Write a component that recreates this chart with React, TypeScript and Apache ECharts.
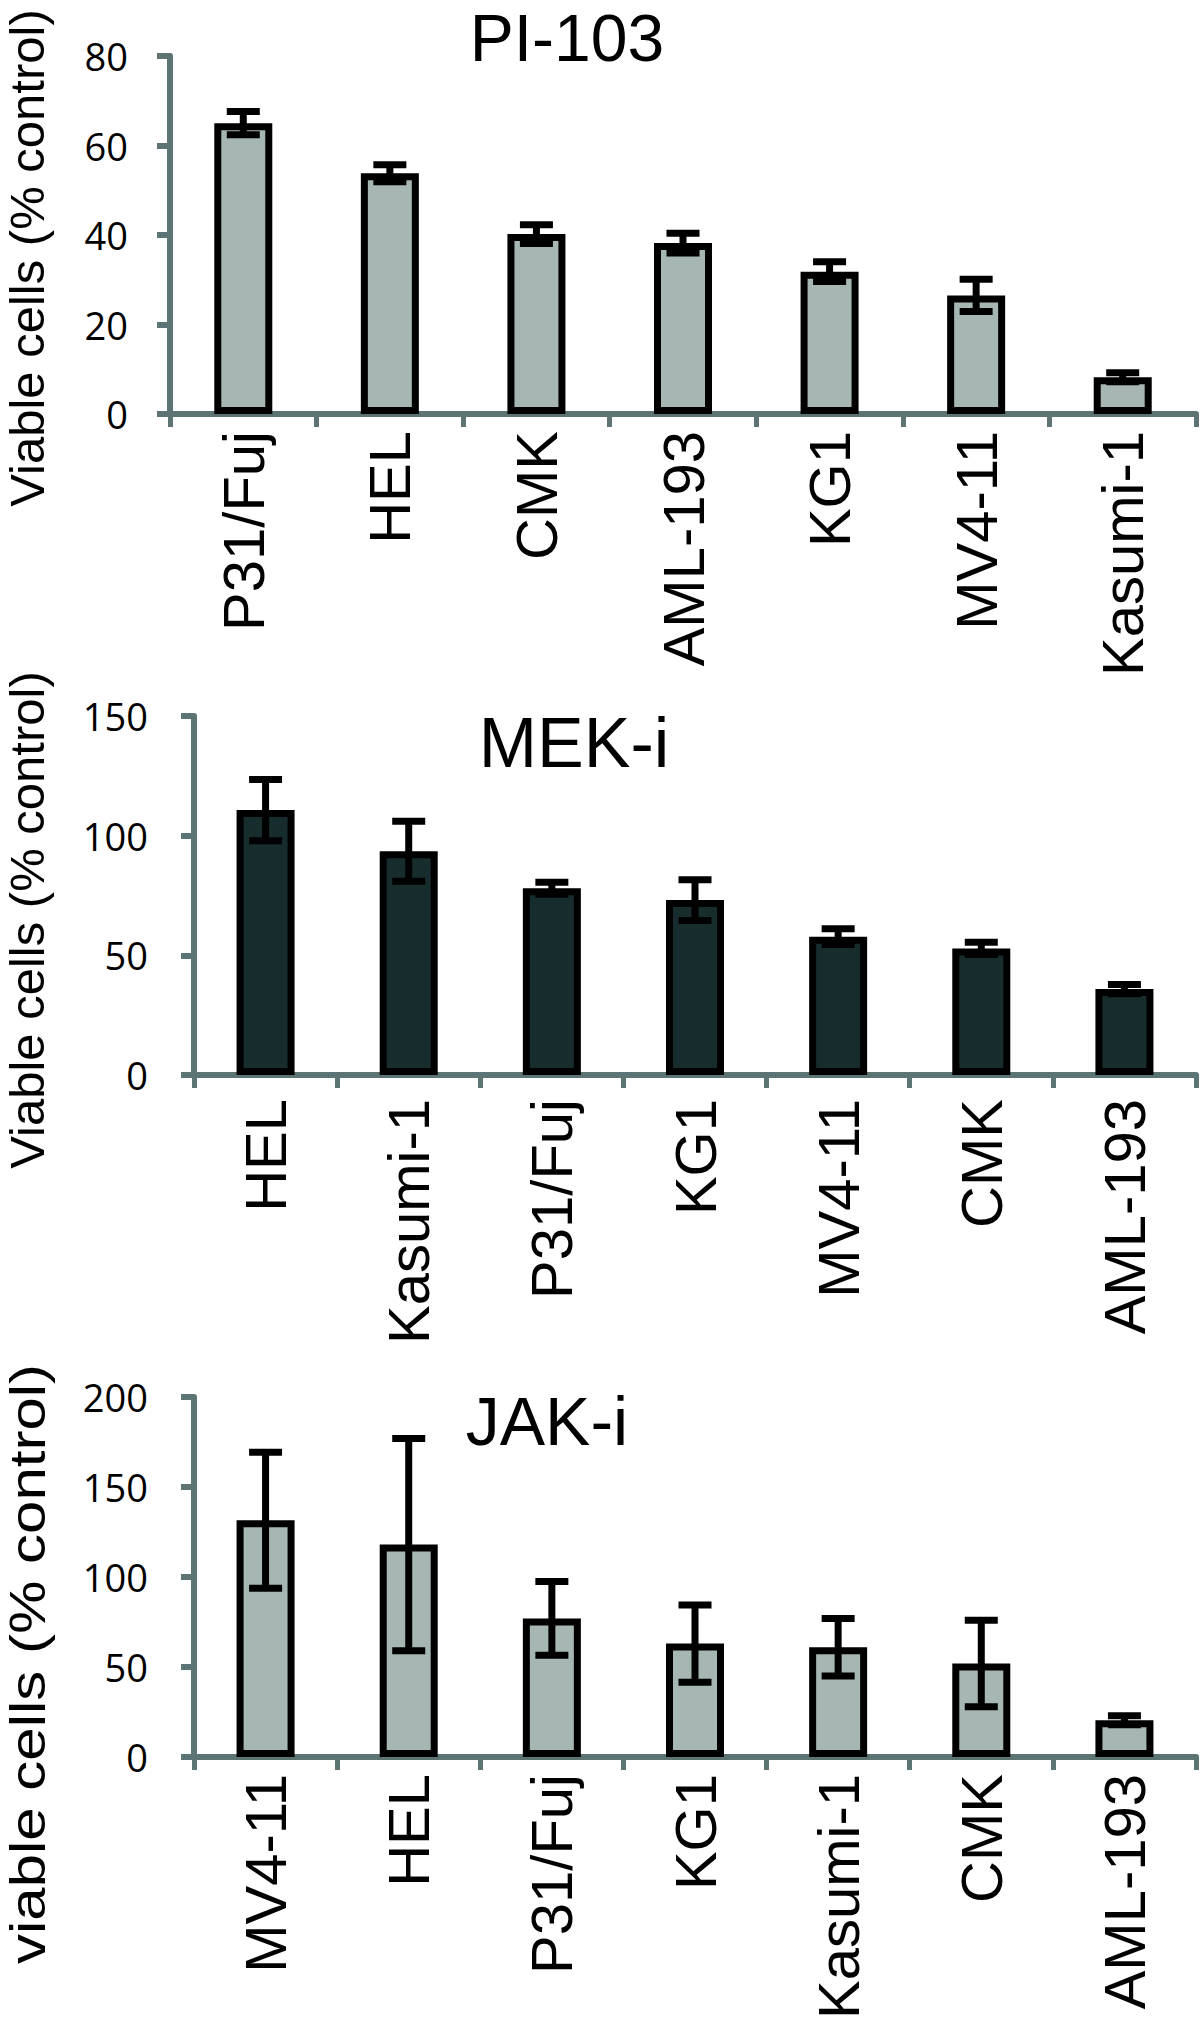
import React, { useEffect, useRef } from "react";
import * as echarts from "echarts";

// ---- data ----
const pi103Cats = ["P31/Fuj", "HEL", "CMK", "AML-193", "KG1", "MV4-11", "Kasumi-1"];
const pi103Vals = [65.0, 53.8, 40.2, 38.2, 31.8, 26.5, 8.2];
const pi103Err = [2.6, 1.9, 2.1, 2.2, 2.2, 3.6, 1.0];

const mekCats = ["HEL", "Kasumi-1", "P31/Fuj", "KG1", "MV4-11", "CMK", "AML-193"];
const mekVals = [110.7, 93.5, 78.0, 73.1, 57.8, 52.9, 35.9];
const mekErr = [12.8, 12.5, 2.5, 8.5, 3.3, 2.6, 1.9];

const jakCats = ["MV4-11", "HEL", "P31/Fuj", "KG1", "Kasumi-1", "CMK", "AML-193"];
const jakVals = [131.5, 118, 77, 63, 61, 52, 20.5];
const jakErr = [37.8, 59, 20.5, 21.5, 16, 24, 2.5];

const panelTitles = ["PI-103", "MEK-i", "JAK-i"];
const yTitles = ["Viable cells (% control)", "Viable cells (% control)", "viable cells (% control)"];
const yMax = [80, 150, 200];
const yStep = [20, 50, 50];

const AXIS = "#5c7474";
const LIGHT = "#a6b6b2";
const DARK = "#172c2d";

export default function App() {
  const ref = useRef<HTMLDivElement>(null);
  useEffect(() => {
    if (!ref.current) return;
    const chart = echarts.init(ref.current, undefined, { renderer: "svg" });
    const cats = [pi103Cats, mekCats, jakCats];
    const vals = [pi103Vals, mekVals, jakVals];
    const errs = [pi103Err, mekErr, jakErr];
    const fills = [LIGHT, DARK, LIGHT];
    const grids = [
      { left: 170, top: 56, width: 1026, height: 358 },
      { left: 194, top: 716, width: 1002, height: 359 },
      { left: 194, top: 1397, width: 1002, height: 361 },
    ];
    const labelMargins = [17, 24, 17];
    const yLabelMargins = [42, 46, 46];

    const xAxis = cats.map((c, i) => ({
      type: "category",
      gridIndex: i,
      data: c,
      axisLine: { show: true, lineStyle: { color: AXIS, width: 6 } },
      axisTick: { show: true, length: 13, alignWithLabel: false, lineStyle: { color: AXIS, width: 5 } },
      axisLabel: {
        rotate: 90,
        interval: 0,
        margin: labelMargins[i],
        fontSize: 58,
        fontFamily: "Liberation Sans",
        color: "#000",
      },
    }));
    const yAxis = cats.map((_, i) => ({
      type: "value",
      gridIndex: i,
      min: 0,
      max: yMax[i],
      interval: yStep[i],
      splitLine: { show: false },
      axisLine: { show: true, lineStyle: { color: AXIS, width: 6 } },
      axisTick: { show: true, length: 13, lineStyle: { color: AXIS, width: 6 } },
      axisLabel: { margin: yLabelMargins[i], fontSize: 38, fontFamily: "Open Sans", color: "#000" },
    }));

    const series: any[] = [];
    cats.forEach((_, i) => {
      series.push({
        type: "bar",
        xAxisIndex: i,
        yAxisIndex: i,
        data: vals[i],
        barWidth: 58,
        itemStyle: { color: fills[i], borderColor: "#000", borderWidth: 7 },
        z: 2,
      });
      series.push({
        type: "custom",
        xAxisIndex: i,
        yAxisIndex: i,
        z: 5,
        encode: { x: 0, y: 1 },
        data: vals[i].map((v, k) => [k, v, errs[i][k]]),
        renderItem: (params: any, api: any) => {
          const k = api.value(0);
          const v = api.value(1);
          const e = api.value(2);
          const top = api.coord([k, v + e]);
          const bot = api.coord([k, v - e]);
          const hw = 16.5;
          const st = { stroke: "#000", lineWidth: 7 };
          return {
            type: "group",
            children: [
              { type: "line", shape: { x1: top[0], y1: top[1], x2: bot[0], y2: bot[1] }, style: st },
              { type: "line", shape: { x1: top[0] - hw, y1: top[1], x2: top[0] + hw, y2: top[1] }, style: st },
              { type: "line", shape: { x1: bot[0] - hw, y1: bot[1], x2: bot[0] + hw, y2: bot[1] }, style: st },
            ],
          };
        },
      });
    });

    const titlePos = [
      [567, 38],
      [574, 743],
      [547, 1421],
    ];
    const titleFont = [66, 70, 68];
    const yTitlePos = [
      [27, 258],
      [27, 920],
      [28, 1664],
    ];
    const yTitleFont = [49, 49, 50];
    const yTitleStretch = [1, 1, 1.2];
    const graphic: any[] = [];
    panelTitles.forEach((t, i) => {
      graphic.push({
        type: "text",
        x: titlePos[i][0],
        y: titlePos[i][1],
        style: {
          text: t,
          fontSize: titleFont[i],
          lineHeight: 60,
          fontFamily: "Liberation Sans",
          fill: "#000",
          textAlign: "center",
          textVerticalAlign: "middle",
        },
      });
      graphic.push({
        type: "text",
        x: yTitlePos[i][0],
        y: yTitlePos[i][1],
        rotation: Math.PI / 2,
        scaleX: yTitleStretch[i],
        style: {
          text: yTitles[i],
          fontSize: yTitleFont[i],
          fontFamily: "Liberation Sans",
          fill: "#000",
          textAlign: "center",
          textVerticalAlign: "middle",
        },
      });
    });

    chart.setOption({
      animation: false,
      backgroundColor: "#fff",
      grid: grids,
      xAxis,
      yAxis,
      series,
      graphic,
    });
    return () => chart.dispose();
  }, []);
  return (
    <div
      ref={ref}
      style={{ position: "absolute", left: 0, top: 0, width: 1200, height: 2022 }}
    />
  );
}
